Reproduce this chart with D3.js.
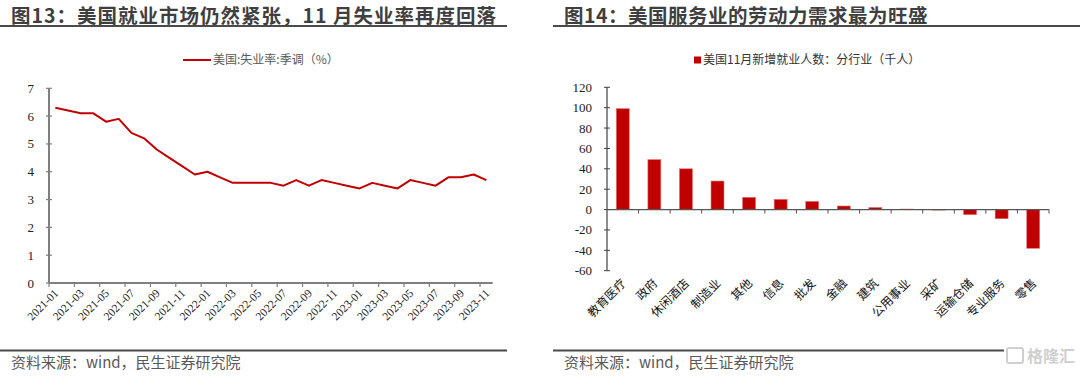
<!DOCTYPE html>
<html><head><meta charset="utf-8">
<script src="https://cdn.jsdelivr.net/npm/d3@7"></script>
<style>
html,body{margin:0;padding:0;background:#fff;}
svg{display:block;}
</style></head>
<body>
<svg id="c" width="1080" height="376"></svg>
<script>
// ---------- DATA ----------
const leftTitle = "图13：美国就业市场仍然紧张，11 月失业率再度回落";
const rightTitle = "图14：美国服务业的劳动力需求最为旺盛";
const sourceText = "资料来源：wind，民生证券研究院";
const leftLegend = "美国:失业率:季调（%）";
const rightLegend = "美国11月新增就业人数：分行业（千人）";

const months = ["2021-01","2021-02","2021-03","2021-04","2021-05","2021-06","2021-07","2021-08","2021-09","2021-10","2021-11","2021-12",
                "2022-01","2022-02","2022-03","2022-04","2022-05","2022-06","2022-07","2022-08","2022-09","2022-10","2022-11","2022-12",
                "2023-01","2023-02","2023-03","2023-04","2023-05","2023-06","2023-07","2023-08","2023-09","2023-10","2023-11"];
const unemployment = [6.3,6.2,6.1,6.1,5.8,5.9,5.4,5.2,4.8,4.5,4.2,3.9,
                      4.0,3.8,3.6,3.6,3.6,3.6,3.5,3.7,3.5,3.7,3.6,3.5,
                      3.4,3.6,3.5,3.4,3.7,3.6,3.5,3.8,3.8,3.9,3.7];
const leftYTicks = [0,1,2,3,4,5,6,7];

const sectors = ["教育医疗","政府","休闲酒店","制造业","其他","信息","批发","金融","建筑","公用事业","采矿","运输仓储","专业服务","零售"];
const jobs = [99,49,40,28,12,10,8,3.5,2,0.5,-0.5,-5,-9,-38];
const rightYTicks = [-60,-40,-20,0,20,40,60,80,100,120];

// ---------- DRAW ----------
const svg = d3.select("#c");
const red = "#C00000";
const serif = "'Liberation Serif','Times New Roman',serif";
const cjk = "'Noto Sans CJK SC','Noto Sans',sans-serif";

function header(x0, x1, tx, title, ls){
  svg.append("text").attr("x", tx).attr("y", 22.7)
    .attr("font-family", cjk).attr("font-weight", "bold").attr("font-size", 19.5)
    .attr("letter-spacing", ls)
    .attr("fill", "#3f3f3f").text(title);
  svg.append("line").attr("x1", x0).attr("x2", x1).attr("y1", 26).attr("y2", 26)
    .attr("stroke", "#4a4a4a").attr("stroke-width", 2);
  svg.append("line").attr("x1", x0).attr("x2", x1).attr("y1", 350.5).attr("y2", 350.5)
    .attr("stroke", "#4a4a4a").attr("stroke-width", 2);
  svg.append("text").attr("x", tx).attr("y", 367.5)
    .attr("font-family", cjk).attr("font-size", 15)
    .attr("fill", "#595959").text(sourceText);
}
header(0, 507, 11, leftTitle, 1);
header(553, 1080, 564, rightTitle, 0.5);

// ---- Left chart ----
const xL = d3.scaleBand().domain(months).range([49, 492.7]).padding(0);
const yL = d3.scaleLinear().domain([0, 7]).range([283, 88.3]);
const gL = svg.append("g");

gL.append("line").attr("x1", 49).attr("x2", 49).attr("y1", yL(7)).attr("y2", yL(0))
  .attr("stroke", "#7f7f7f").attr("stroke-width", 2);
leftYTicks.forEach(v => {
  gL.append("line").attr("x1", 46).attr("x2", 52).attr("y1", yL(v)).attr("y2", yL(v))
    .attr("stroke", "#7f7f7f").attr("stroke-width", 1.2);
  gL.append("text").attr("x", 34).attr("y", yL(v)).attr("dy", "0.35em")
    .attr("text-anchor", "end").attr("font-family", serif).attr("font-size", 13)
    .attr("fill", "#222").text(v);
});
gL.append("line").attr("x1", 49).attr("x2", 492.7).attr("y1", yL(0)).attr("y2", yL(0))
  .attr("stroke", "#7f7f7f").attr("stroke-width", 2);
months.forEach((m, i) => {
  if (i % 2 !== 0) return;
  gL.append("line").attr("x1", xL(m)).attr("x2", xL(m)).attr("y1", yL(0)).attr("y2", yL(0) + 4)
    .attr("stroke", "#7f7f7f").attr("stroke-width", 1.2);
  const cx = xL(m) + xL.bandwidth() / 2;
  gL.append("text").attr("transform", `translate(${cx + 1},${291}) rotate(-45)`)
    .attr("dy", "0.35em").attr("text-anchor", "end")
    .attr("font-family", serif).attr("font-size", 11.5).attr("fill", "#222").text(m);
});
const line = d3.line().x((d, i) => xL(months[i]) + xL.bandwidth() / 2).y(d => yL(d));
gL.append("path").datum(unemployment).attr("d", line)
  .attr("fill", "none").attr("stroke", red).attr("stroke-width", 2).attr("stroke-linejoin", "round");
gL.append("line").attr("x1", 183).attr("x2", 211).attr("y1", 60).attr("y2", 60)
  .attr("stroke", red).attr("stroke-width", 2);
gL.append("text").attr("x", 213).attr("y", 60).attr("dy", "0.35em")
  .attr("font-family", cjk).attr("font-size", 12).attr("fill", "#595959").text(leftLegend);

// ---- Right chart ----
const xR = d3.scaleBand().domain(sectors).range([607, 1049]).padding(0);
const yR = d3.scaleLinear().domain([-60, 120]).range([270.7, 87.3]);
const gR = svg.append("g");
const axc = "#404040";

gR.append("line").attr("x1", 607).attr("x2", 607).attr("y1", yR(120)).attr("y2", yR(-60))
  .attr("stroke", axc).attr("stroke-width", 1.2);
rightYTicks.forEach(v => {
  gR.append("line").attr("x1", 604).attr("x2", 610).attr("y1", yR(v)).attr("y2", yR(v))
    .attr("stroke", axc).attr("stroke-width", 1);
  gR.append("text").attr("x", 592).attr("y", yR(v)).attr("dy", "0.35em")
    .attr("text-anchor", "end").attr("font-family", serif).attr("font-size", 13)
    .attr("fill", "#222").text(v);
});
const bw = xR.bandwidth() * 0.41;
gR.selectAll("rect.bar").data(jobs).enter().append("rect")
  .attr("x", (d, i) => xR(sectors[i]) + xR.bandwidth() / 2 - bw / 2)
  .attr("width", bw)
  .attr("y", d => yR(Math.max(0, d)))
  .attr("height", d => Math.abs(yR(d) - yR(0)))
  .attr("fill", red).attr("stroke", "#e07070").attr("stroke-width", 0.6);
gR.append("line").attr("x1", 607).attr("x2", 1049).attr("y1", yR(0)).attr("y2", yR(0))
  .attr("stroke", "#555").attr("stroke-width", 1.2);
sectors.forEach((s, i) => {
  const bx = xR(s) + xR.bandwidth();
  gR.append("line").attr("x1", bx).attr("x2", bx).attr("y1", yR(0)).attr("y2", yR(0) + 4)
    .attr("stroke", "#555").attr("stroke-width", 1);
  const cx = xR(s) + xR.bandwidth() / 2;
  gR.append("text").attr("transform", `translate(${cx + 1},${281}) rotate(-45)`)
    .attr("dy", "0.35em").attr("text-anchor", "end")
    .attr("font-family", cjk).attr("font-size", 12).attr("fill", "#111").text(s);
});
gR.append("rect").attr("x", 694).attr("y", 56.5).attr("width", 7).attr("height", 7).attr("fill", red);
gR.append("text").attr("x", 703).attr("y", 60).attr("dy", "0.35em")
  .attr("font-family", cjk).attr("font-size", 12).attr("fill", "#333").text(rightLegend);

// watermark
const wm = svg.append("g").attr("transform", "translate(1006,346)");
wm.append("rect").attr("x", -2).attr("y", -2).attr("width", 76).attr("height", 24).attr("fill", "#fff");
wm.append("rect").attr("x", 1).attr("y", 2).attr("width", 16).attr("height", 15).attr("rx", 2)
  .attr("fill", "none").attr("stroke", "#cfcfcf").attr("stroke-width", 2);
wm.append("text").attr("x", 21).attr("y", 16).attr("font-family", cjk).attr("font-size", 16)
  .attr("fill", "#cfcfcf").attr("font-weight", "bold").text("格隆汇");
</script>
</body></html>
